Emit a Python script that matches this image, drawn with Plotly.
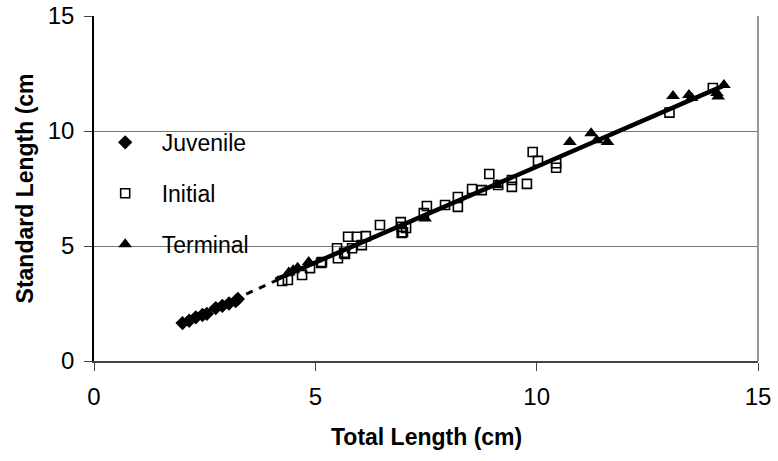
import plotly.graph_objects as go

# ---- data ----
juv_x = [2.0, 2.15, 2.3, 2.45, 2.55, 2.75, 2.9, 3.05, 3.2, 3.25]
juv_y = [1.65, 1.75, 1.9, 2.0, 2.05, 2.3, 2.4, 2.5, 2.6, 2.7]

init_x = [4.25, 4.38, 4.7, 4.88, 5.13, 5.15, 5.49, 5.51, 5.65, 5.67, 5.74, 5.83, 5.94,
          6.05, 6.14, 6.46, 6.93, 6.95, 6.95, 7.05, 6.98, 7.45, 7.52, 7.93, 8.22, 8.22,
          8.54, 8.76, 8.93, 9.13, 9.44, 9.44, 9.78, 9.91, 10.03, 10.44, 10.44, 13.0, 13.98]
init_y = [3.48, 3.52, 3.74, 4.04, 4.26, 4.3, 4.9, 4.47, 4.7, 4.65, 5.4, 4.9, 5.4,
          5.04, 5.43, 5.91, 6.04, 5.83, 5.57, 5.78, 5.6, 6.43, 6.74, 6.78, 7.13, 6.7,
          7.48, 7.43, 8.13, 7.65, 7.57, 7.87, 7.7, 9.09, 8.7, 8.6, 8.4, 10.8, 11.87]

term_x = [4.4, 4.5, 4.6, 4.85, 7.48, 9.1, 10.75, 11.23, 11.36, 11.6,
          13.08, 13.44, 13.5, 14.07, 14.1, 14.23]
term_y = [3.85, 3.95, 4.05, 4.3, 6.2, 7.65, 9.52, 9.9, 9.6, 9.52,
          11.52, 11.56, 11.43, 11.65, 11.5, 12.0]

juv_fit_x = [2.0, 4.4]
juv_fit_y = [1.65, 3.75]
adult_fit_x = [4.1, 14.2]
adult_fit_y = [3.53, 11.95]

x_ticks = [0, 5, 10, 15]
y_ticks = [0, 5, 10, 15]

FONT = "Arial, Liberation Sans, sans-serif"

fig = go.Figure()

fig.add_trace(go.Scatter(x=juv_fit_x, y=juv_fit_y, mode="lines",
                         line=dict(color="black", width=3, dash="7px,7px"),
                         showlegend=False, hoverinfo="skip"))
fig.add_trace(go.Scatter(x=adult_fit_x, y=adult_fit_y, mode="lines",
                         line=dict(color="black", width=4.5),
                         showlegend=False, hoverinfo="skip"))

fig.add_trace(go.Scatter(x=juv_x, y=juv_y, mode="markers", name="Juvenile",
                         legendgroup="a",
                         marker=dict(symbol="diamond", size=11, color="black")))
fig.add_trace(go.Scatter(x=init_x, y=init_y, mode="markers", name="Initial",
                         legendgroup="b",
                         marker=dict(symbol="square-open", size=9, color="black",
                                     line=dict(width=1.6, color="black"))))
fig.add_trace(go.Scatter(x=term_x, y=term_y, mode="markers", name="Terminal",
                         legendgroup="c",
                         marker=dict(symbol="triangle-up", size=12, color="black")))

fig.update_layout(
    width=778, height=461,
    margin=dict(l=94, r=20, t=16, b=100),
    paper_bgcolor="white", plot_bgcolor="white",
    font=dict(family=FONT, size=24, color="black"),
    legend=dict(x=-0.008, y=0.696, xanchor="left", yanchor="top",
                bgcolor="rgba(0,0,0,0)", borderwidth=0, itemwidth=63,
                traceorder="grouped", tracegroupgap=18,
                font=dict(size=23, family=FONT)),
    xaxis=dict(range=[0, 15], tickvals=x_ticks, ticks="outside", ticklen=8,
               tickcolor="#444", showline=True, linecolor="#444", linewidth=2,
               mirror=False, showgrid=False, zeroline=False, automargin=False,
               ticklabelstandoff=5, tickfont=dict(size=24)),
    yaxis=dict(range=[0, 15], tickvals=y_ticks, ticks="outside", ticklen=8,
               tickcolor="#444", showline=True, linecolor="black", linewidth=1.5,
               showgrid=True, gridcolor="#777", gridwidth=1.3, zeroline=False,
               automargin=False, ticklabelstandoff=5, tickfont=dict(size=24)),
    annotations=[
        dict(text="<b>Total Length (cm)</b>", xref="paper", yref="paper",
             x=0.5, y=-0.22, xanchor="center", yanchor="middle",
             showarrow=False, font=dict(size=23)),
        dict(text="<b>Standard Length (cm</b>", xref="paper", yref="paper",
             x=-0.104, y=0.5, xanchor="center", yanchor="middle",
             textangle=-90, showarrow=False, font=dict(size=23)),
    ],
    shapes=[
        dict(type="rect", xref="x", yref="y", x0=0.04, x1=3.97, y0=4.3, y1=11.2,
             fillcolor="white", line=dict(width=0), layer="below"),
        dict(type="line", xref="paper", yref="paper", x0=1, x1=1, y0=0, y1=1,
             line=dict(color="#999", width=2)),
    ],
)

fig.write_html("out.html")
